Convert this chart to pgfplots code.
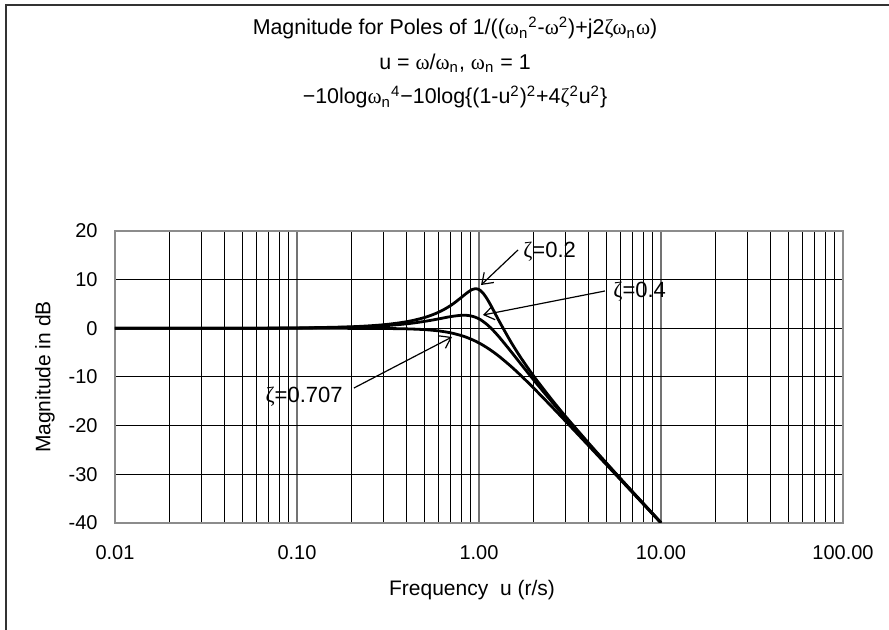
\documentclass[border=0pt]{standalone}
\usepackage{pgfplots}
\pgfplotsset{compat=1.18}
\usetikzlibrary{arrows.meta}
\usepackage{fontspec}
\setmainfont{Liberation Sans}
\newfontfamily\grk{Liberation Serif}
\newcommand{\w}{{\grk ω}}
\newcommand{\z}{{\grk ζ}}
\newcommand{\sub}[1]{\textsubscript{#1}}
\newcommand{\sups}[1]{\textsuperscript{#1}}

% -10 log10((1-u^2)^2 + 4 zeta^2 u^2)
\pgfplotstableread{
u      z02      z04      z0707
0.01   0.0008   0.0006   0.0000
0.02   0.0032   0.0024   0.0000
0.05   0.020    0.0147   0.0000
0.1    0.080    0.059   -0.0004
0.2    0.325    0.236   -0.0068
0.3    0.744    0.527   -0.0348
0.4    1.360    0.926   -0.1094
0.5    2.200    1.412   -0.2627
0.6    3.305    1.938   -0.5284
0.7    4.704    2.413   -0.9335
0.8    6.345    2.683   -1.4899
0.85   7.153    2.681   -1.8229
0.9    7.807    2.561   -2.1897
0.92   7.986    2.470   -2.350
0.95   8.127    2.313   -2.5864
0.96   8.136    2.245   -2.667
0.98   8.090    2.100   -2.838
1.0    7.959    1.938   -3.0090
1.02   7.744    1.770   -3.180
1.05   7.283    1.450   -3.4537
1.1    6.240    0.870   -3.9154
1.15   5.009    0.221   -4.391
1.2    3.726   -0.474   -4.8753
1.3    1.270   -1.925   -5.8603
1.5   -2.839   -4.775   -7.8258
1.7   -6.058   -7.342   -9.7084
2     -9.841  -10.630  -12.3039
2.5  -14.558  -14.992  -16.0270
3    -18.159  -18.436  -19.1378
4    -23.571  -23.715  -24.0992
5    -27.634  -27.723  -27.9657
6    -30.902  -30.963  -31.1293
7    -33.640  -33.684  -33.8057
8    -35.998  -36.031  -36.1245
10   -39.920  -39.941  -40.0000
}\magdata

\begin{document}
\begin{tikzpicture}
\useasboundingbox (0,0) rectangle (444.5pt,315pt);
% chart frame
\draw[line width=1pt, black!80] (3pt,0) -- (3pt,312.5pt) -- (444.5pt,312.5pt);
% titles
\node[font=\fontsize{10.7}{12}\selectfont] at (227.5pt,301pt)
  {Magnitude for Poles of 1/((\w\sub{n}\sups{2}-\w\sups{2})+j2\z\w\sub{n}\w)};
\node[font=\fontsize{10.7}{12}\selectfont] at (227.5pt,283.5pt)
  {u = \w/\w\sub{n}, \w\sub{n} = 1};
\node[font=\fontsize{10.7}{12}\selectfont] at (227.5pt,266.5pt)
  {−10log\w\sub{n}\sups{4}−10log\{(1-u\sups{2})\sups{2}+4\z\sups{2}u\sups{2}\}};
\begin{axis}[
  name=ax,
  at={(57.5pt,53.5pt)}, anchor=south west,
  scale only axis, width=364pt, height=146pt,
  xmode=log, xmin=0.01, xmax=100, ymin=-40, ymax=20,
  xtick={0.01,0.1,1,10,100},
  xticklabels={0.01,0.10,1.00,10.00,100.00},
  minor xtick={0.02,0.03,0.04,0.05,0.06,0.07,0.08,0.09,
               0.2,0.3,0.4,0.5,0.6,0.7,0.8,0.9,
               2,3,4,5,6,7,8,9,
               20,30,40,50,60,70,80,90},
  ytick={-40,-30,-20,-10,0,10,20},
  yticklabels={-40,-30,-20,-10,0,10,20},
  grid=both,
  major x grid style={black!55, line width=0.9pt},
  minor x grid style={black, line width=0.5pt},
  major y grid style={black, line width=0.5pt},
  axis line style={black!45, line width=1.1pt},
  major tick length=0pt, minor tick length=0pt,
  tick style={draw=none},
  ticklabel style={font=\fontsize{10}{12}\selectfont, inner sep=0pt},
  xticklabel style={anchor=center, yshift=-15pt},
  yticklabel style={anchor=east, xshift=-8.5pt},
]
\addplot[black, line width=1.4pt, smooth] table[x=u, y=z02] {\magdata};
\addplot[black, line width=1.4pt, smooth] table[x=u, y=z04] {\magdata};
\addplot[black, line width=1.4pt, smooth] table[x=u, y=z0707] {\magdata};
% curve annotations
\draw[-{Straight Barb[length=5pt,width=7pt]}, line width=0.6pt]
  (axis cs:1.638,16.1) -- (axis cs:1.026,8.9);
\draw[-{Straight Barb[length=5pt,width=7pt]}, line width=0.6pt]
  (axis cs:4.92,7.67) -- (axis cs:1.052,2.74);
\draw[-{Straight Barb[length=5pt,width=7pt]}, line width=0.6pt]
  (axis cs:0.2056,-12.26) -- (axis cs:0.7107,-1.78);
\node[anchor=west, inner sep=0pt, font=\fontsize{11}{13}\selectfont]
  at (axis cs:1.745,15.7) {\z=0.2};
\node[anchor=west, inner sep=0pt, font=\fontsize{11}{13}\selectfont]
  at (axis cs:5.45,7.47) {\z=0.4};
\node[anchor=east, inner sep=0pt, font=\fontsize{11}{13}\selectfont]
  at (axis cs:0.179,-14.1) {\z=0.707};
\end{axis}
\node[font=\fontsize{10.5}{12}\selectfont] at (236pt,20pt) {Frequency\ \ u (r/s)};
\node[font=\fontsize{10.5}{12}\selectfont, rotate=90] at (22.5pt,126.5pt) {Magnitude in dB};
\end{tikzpicture}
\end{document}
